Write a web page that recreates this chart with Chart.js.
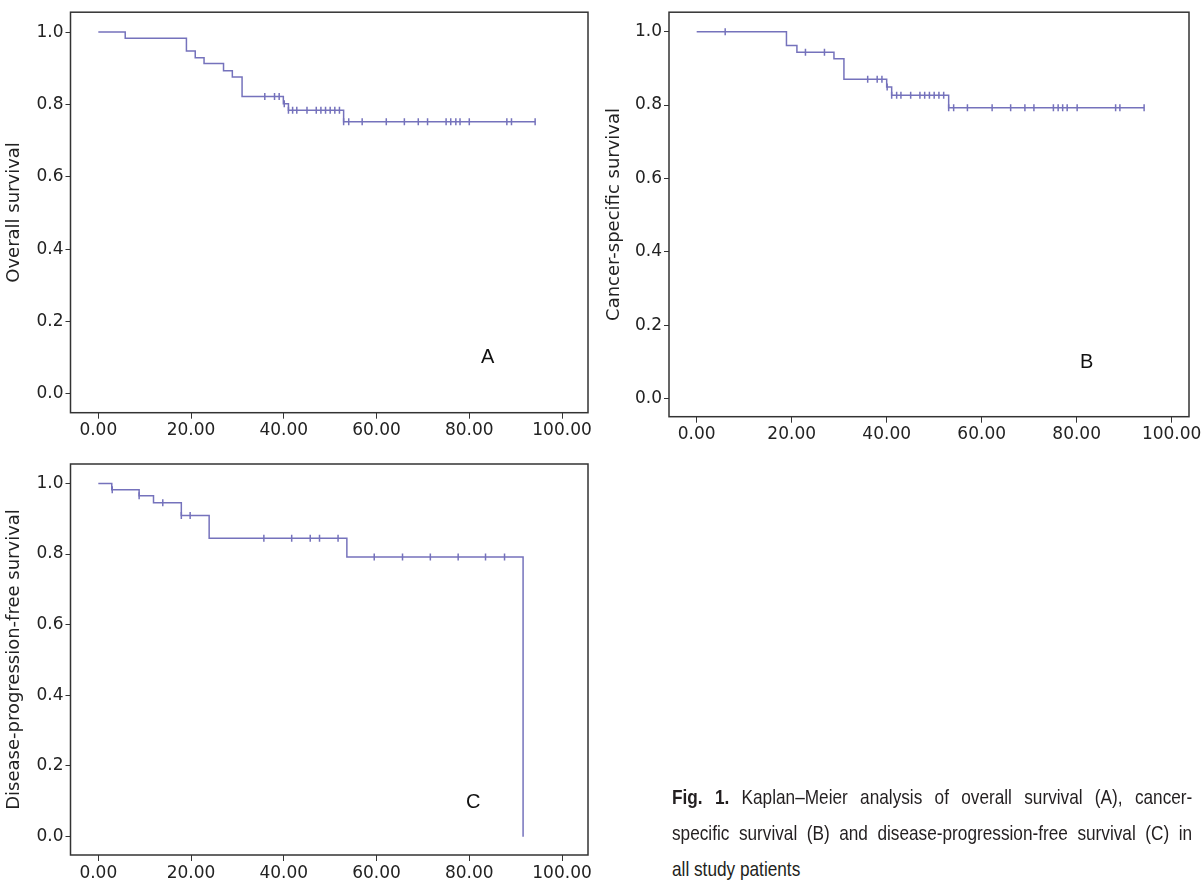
<!DOCTYPE html>
<html><head><meta charset="utf-8">
<script src="https://cdn.jsdelivr.net/npm/chart.js@4.4.1/dist/chart.umd.min.js"></script>
<style>
html,body{margin:0;padding:0;background:#fff;}
body{width:1204px;height:887px;position:relative;overflow:hidden;}
canvas{position:absolute;}
.lbl{position:absolute;font-family:"Liberation Sans",Arial,sans-serif;font-size:20px;color:#111;line-height:20px;}
#cap{position:absolute;left:672px;top:779px;width:520px;font-family:"Liberation Sans",Arial,sans-serif;font-size:21px;line-height:36px;color:#231f20;}
#cap .ln{white-space:nowrap;width:max-content;height:36px;transform-origin:0 0;}
</style>
</head>
<body>
<canvas id="cA" width="600" height="450" style="left:0;top:0;width:600px;height:450px"></canvas>
<canvas id="cB" width="604" height="450" style="left:600px;top:0;width:604px;height:450px"></canvas>
<canvas id="cC" width="600" height="437" style="left:0;top:450px;width:600px;height:437px"></canvas>
<div class="lbl" style="left:481px;top:346px">A</div>
<div class="lbl" style="left:1080px;top:351px">B</div>
<div class="lbl" style="left:466px;top:791px">C</div>
<div id="cap">
<div class="ln" data-j="1"><b>Fig. 1.</b> Kaplan–Meier analysis of overall survival (A), cancer-</div>
<div class="ln" data-j="1">specific survival (B) and disease-progression-free survival (C) in</div>
<div class="ln" data-j="0">all study patients</div>
</div>
<script>
// ---- tick labels ----
const xTicks = [0, 20, 40, 60, 80, 100];
const yTicks = [0, 0.2, 0.4, 0.6, 0.8, 1.0];

// ---- A: overall survival (event times / survival after event) ----
const osTimes = [0, 5.8, 19.0, 20.9, 22.8, 27.0, 28.9, 31.0, 39.9, 41.0, 52.9, 94.2];
const osSurv  = [1.0, 0.983, 0.948, 0.929, 0.913, 0.893, 0.876, 0.822, 0.802, 0.784, 0.752, 0.752];
const osCensored = [35.9, 38.0, 39.0, 40.1, 41.0, 41.9, 42.8, 45.0, 47.0, 48.0, 49.0, 50.0, 51.0, 52.0,
  52.9, 54.0, 56.9, 62.1, 66.0, 69.0, 71.0, 75.0, 76.0, 77.1, 78.0, 80.0, 88.1, 89.1, 94.2];

// ---- B: cancer-specific survival ----
const cssTimes = [0, 18.9, 21.1, 28.9, 31.0, 40.0, 41.05, 53.05, 94.2];
const cssSurv  = [1.0, 0.962, 0.944, 0.926, 0.870, 0.849, 0.827, 0.793, 0.793];
const cssCensored = [6.0, 22.9, 26.9, 36.0, 38.0, 39.0, 40.1, 41.05, 42.1, 43.0, 45.05, 47.0, 48.0, 49.0,
  50.0, 51.0, 52.0, 53.05, 54.1, 57.0, 62.2, 66.1, 69.1, 71.0, 75.1, 76.1, 77.05, 78.0, 80.1, 88.2, 89.1, 94.2];

// ---- C: disease-progression-free survival ----
const dpfsTimes = [0, 2.9, 8.8, 11.9, 17.9, 23.9, 53.6, 91.6];
const dpfsSurv  = [1.0, 0.982, 0.965, 0.945, 0.909, 0.845, 0.792, 0.0];
const dpfsCensored = [3.0, 8.8, 13.9, 17.9, 19.8, 35.7, 41.7, 45.7, 47.7, 51.7, 59.5, 65.6, 71.6, 77.6, 83.5, 87.6];

const CURVE = '#7572bc';
const AXIS = '#333333';
const TXT = '#222222';

// caption: condensed + justified lines
(function () {
  const W = 520, K = 0.82;
  document.querySelectorAll('#cap .ln').forEach(el => {
    const w = el.offsetWidth;
    let k = K;
    if (el.dataset.j === '1') {
      const spaces = (el.textContent.match(/ /g) || []).length;
      if (w * k > W - spaces) k = (W - spaces) / w;
      el.style.wordSpacing = ((W / k - w) / spaces) + 'px';
    }
    el.style.transform = 'scaleX(' + k + ')';
  });
})();

function survAt(times, surv, t) {
  let s = surv[0];
  for (let i = 0; i < times.length; i++) if (times[i] <= t + 1e-9) s = surv[i];
  return s;
}

const framePlugin = {
  id: 'frame',
  afterDraw(chart) {
    const a = chart.chartArea, ctx = chart.ctx;
    ctx.save();
    ctx.strokeStyle = AXIS;
    ctx.lineWidth = 1.5;
    ctx.strokeRect(a.left, a.top, a.right - a.left, a.bottom - a.top);
    ctx.restore();
  }
};

function makePanel(id, times, surv, cens, title, g) {
  const curve = times.map((t, i) => ({x: t, y: surv[i]}));
  const marks = cens.map(t => ({x: t, y: survAt(times, surv, t)}));
  return new Chart(document.getElementById(id), {
    type: 'line',
    data: {datasets: [
      {data: curve, borderColor: CURVE, borderWidth: 1.5, stepped: true, pointRadius: 0, fill: false},
      {data: marks, showLine: false, borderColor: CURVE, borderWidth: 1.5, pointStyle: 'line',
       rotation: 90, pointRadius: 3.5, pointHoverRadius: 3.5}
    ]},
    options: {
      responsive: false, animation: false, devicePixelRatio: 1,
      events: [],
      layout: {padding: {left: 0, top: g.top, right: g.right, bottom: 0}},
      plugins: {legend: {display: false}, tooltip: {enabled: false}},
      scales: {
        x: {
          type: 'linear', min: g.xmin, max: g.xmax,
          afterBuildTicks: s => { s.ticks = xTicks.map(v => ({value: v})); },
          afterFit: s => { s.height = g.xh; },
          grid: {drawOnChartArea: false, drawTicks: true, tickLength: 6, color: AXIS, lineWidth: 1},
          border: {display: false},
          ticks: {color: TXT, padding: 2, maxRotation: 0, autoSkip: false,
                  font: {family: 'DejaVu Sans', size: 17},
                  callback: v => Number(v).toFixed(2)}
        },
        y: {
          type: 'linear', min: g.ymin, max: g.ymax,
          afterBuildTicks: s => { s.ticks = yTicks.map(v => ({value: v})); },
          afterFit: s => { s.width = g.yw; },
          grid: {drawOnChartArea: false, drawTicks: true, tickLength: 5, color: AXIS, lineWidth: 1},
          border: {display: false},
          title: {display: true, text: title, color: TXT, padding: {top: 4, bottom: 0},
                  font: {family: 'DejaVu Sans', size: 18}},
          ticks: {color: TXT, padding: 2, autoSkip: false,
                  font: {family: 'DejaVu Sans', size: 17},
                  callback: v => Number(v).toFixed(1)}
        }
      }
    },
    plugins: [framePlugin]
  });
}

makePanel('cA', osTimes, osSurv, osCensored, 'Overall survival',
  {top: 11, right: 12, yw: 70.5, xh: 37.3, xmin: -6.0, xmax: 105.6, ymin: -0.052, ymax: 1.055});
makePanel('cB', cssTimes, cssSurv, cssCensored, 'Cancer-specific survival',
  {top: 6, right: 15, yw: 69, xh: 33.3, xmin: -5.83, xmax: 103.65, ymin: -0.049, ymax: 1.053});
makePanel('cC', dpfsTimes, dpfsSurv, dpfsCensored, 'Disease-progression-free survival',
  {top: 14, right: 12, yw: 70.5, xh: 32, xmin: -6.0, xmax: 105.6, ymin: -0.052, ymax: 1.055});
</script>
</body></html>
